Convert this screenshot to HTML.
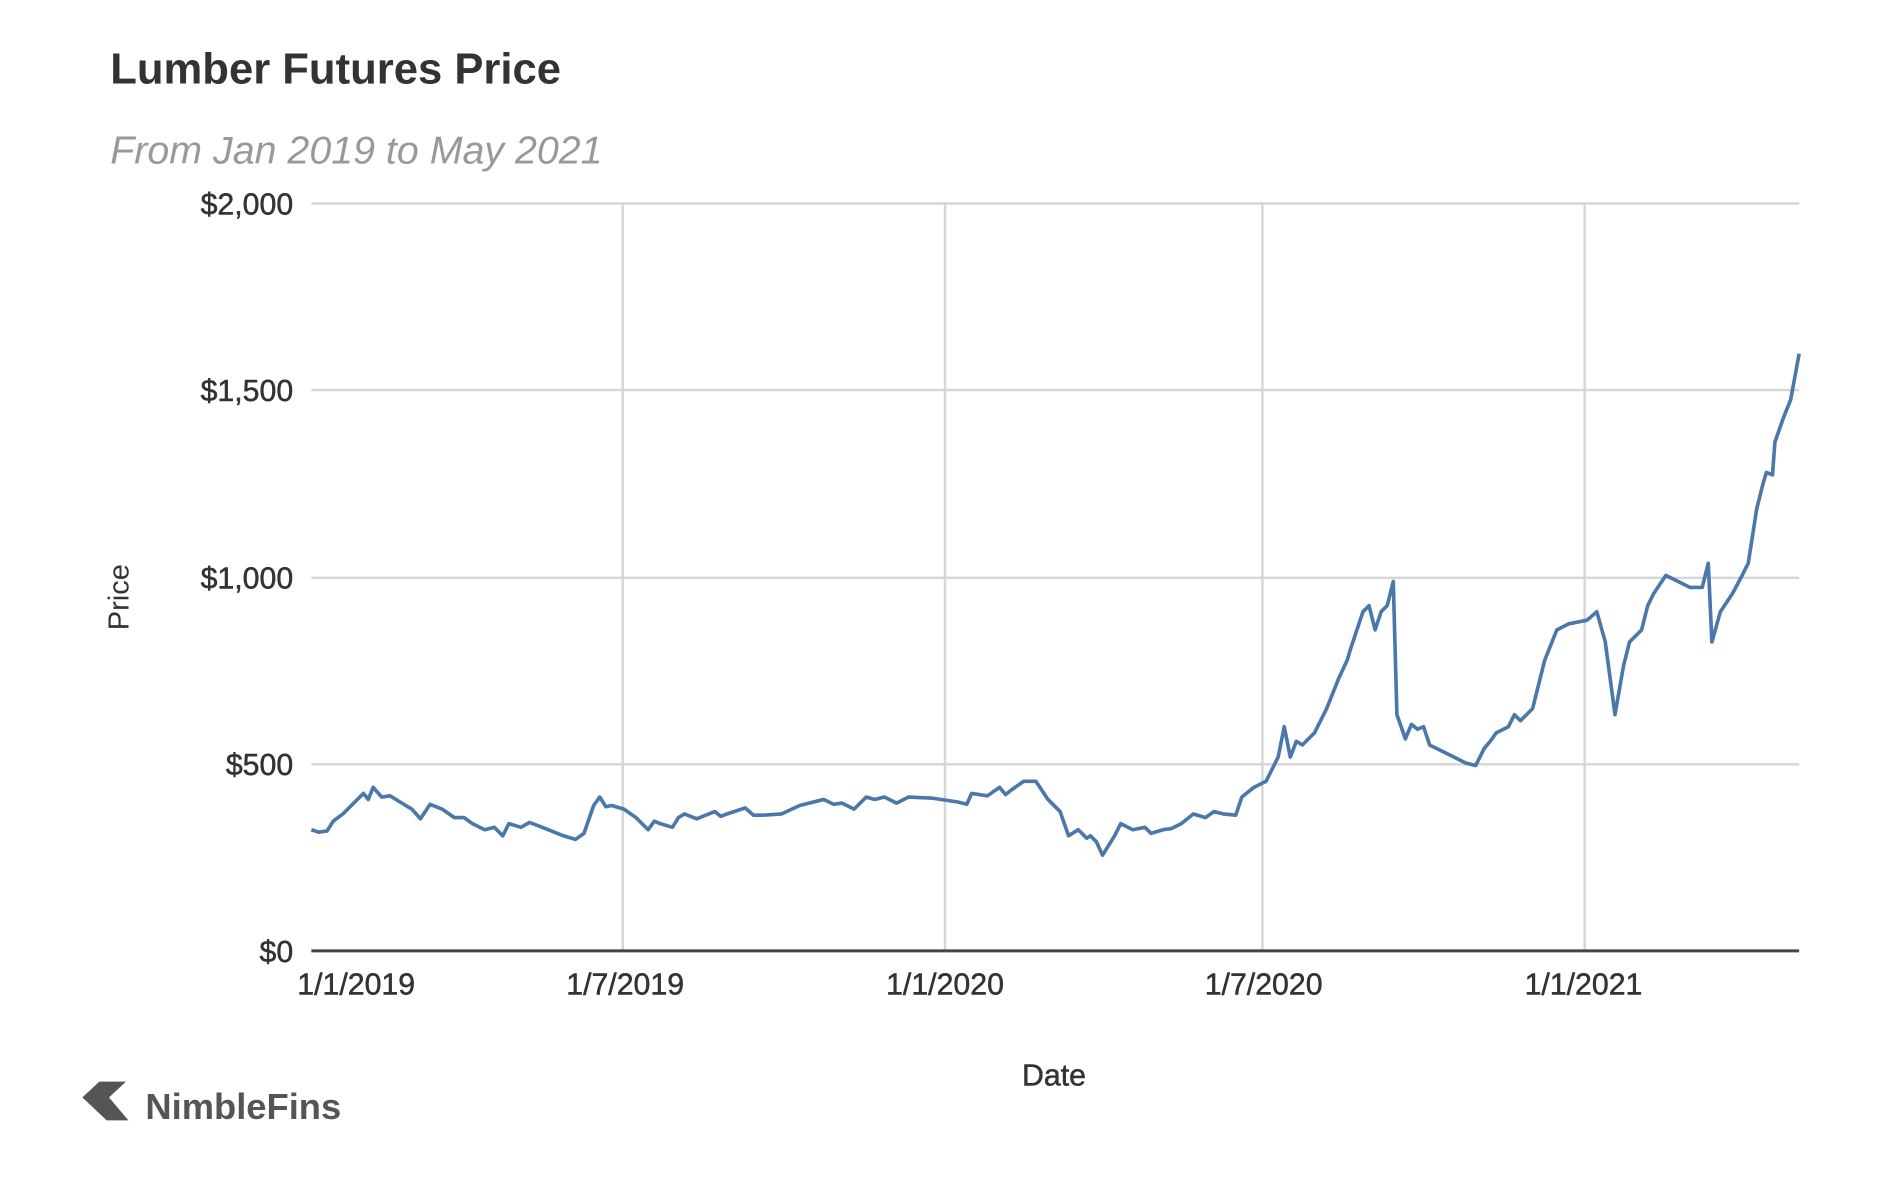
<!DOCTYPE html>
<html><head><meta charset="utf-8"><style>
html,body{margin:0;padding:0;background:#fff;width:1890px;height:1181px;overflow:hidden}
svg{display:block}
text{font-family:"Liberation Sans",sans-serif}
</style></head><body>
<svg width="1890" height="1181" viewBox="0 0 1560 975" preserveAspectRatio="none">
<rect width="1560" height="975" fill="#fff"/>
<text x="91" y="69" font-size="36" font-weight="bold" fill="#333">Lumber Futures Price</text>
<text x="91" y="135" font-size="32.5" font-style="italic" fill="#999">From Jan 2019 to May 2021</text>
<g stroke="#d6d6d6" stroke-width="2">
<line x1="257" y1="168" x2="1485" y2="168"/>
<line x1="257" y1="322" x2="1485" y2="322"/>
<line x1="257" y1="477" x2="1485" y2="477"/>
<line x1="257" y1="631" x2="1485" y2="631"/>
<line x1="514" y1="168" x2="514" y2="785"/>
<line x1="780" y1="168" x2="780" y2="785"/>
<line x1="1042" y1="168" x2="1042" y2="785"/>
<line x1="1308" y1="168" x2="1308" y2="785"/>
</g>
<line x1="257" y1="785" x2="1485" y2="785" stroke="#444" stroke-width="2.5"/>
<g font-size="25" fill="#333" text-anchor="end" stroke="#333" stroke-width="0.4">
<text x="242" y="177">$2,000</text>
<text x="242" y="331">$1,500</text>
<text x="242" y="486">$1,000</text>
<text x="242" y="640">$500</text>
<text x="242" y="794">$0</text>
</g>
<g font-size="25" fill="#333" text-anchor="middle" stroke="#333" stroke-width="0.4">
<text x="294" y="821">1/1/2019</text>
<text x="516" y="821">1/7/2019</text>
<text x="780" y="821">1/1/2020</text>
<text x="1043" y="821">1/7/2020</text>
<text x="1307" y="821">1/1/2021</text>
<text x="870" y="896">Date</text>
</g>
<text transform="translate(106,493) rotate(-90)" font-size="24" fill="#333" text-anchor="middle">Price</text>
<polyline fill="none" stroke="#4a78aa" stroke-width="3" stroke-linejoin="round" points="257,685 263,687 270,686 275,678 283,672 290,665 300,655 304,660 308,650 315,658 322,657 330,662 340,668 347,676 355,664 365,668 375,675 383,675 390,680 400,685 408,683 415,690 420,680 430,683 437,679 445,682 455,686 465,690 475,693 482,688 490,665 495,658 500,666 505,665 515,668 525,675 530,680 535,685 540,678 545,680 555,683 560,675 565,672 575,676 590,670 595,674 600,672 615,667 622,673 630,673 645,672 660,665 680,660 688,664 695,663 705,668 715,658 722,660 730,658 740,663 750,658 770,659 790,662 798,664 802,655 815,657 825,650 830,656 835,652 845,645 855,645 865,660 875,670 882,690 890,685 897,692 900,690 905,695 910,706 915,698 920,690 925,680 935,685 945,683 950,688 960,685 967,684 975,680 985,672 995,675 1002,670 1010,672 1020,673 1025,658 1035,650 1045,645 1055,625 1060,600 1065,625 1070,612 1075,615 1085,605 1095,585 1105,560 1112,545 1115,535 1125,505 1130,500 1135,520 1140,505 1145,500 1150,480 1153,590 1160,610 1165,598 1170,602 1175,600 1180,615 1190,620 1200,625 1210,630 1218,632 1225,618 1230,612 1235,605 1245,600 1250,590 1255,595 1265,585 1275,545 1285,520 1295,515 1310,512 1318,505 1325,530 1333,590 1340,550 1345,530 1355,520 1360,500 1365,490 1375,475 1385,480 1395,485 1405,485 1410,465 1413,530 1420,505 1430,490 1438,475 1443,465 1450,420 1455,400 1458,390 1463,392 1465,365 1472,345 1478,330 1485,292"/>
<polygon points="68,906 82,893 104,893 90,906 106,925 88,925" fill="#555"/>
<text x="120" y="924" font-size="30" font-weight="bold" fill="#555">NimbleFins</text>
</svg>
</body></html>
